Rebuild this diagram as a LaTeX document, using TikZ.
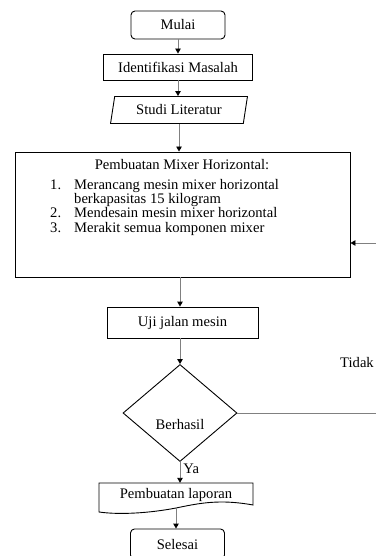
\documentclass[tikz,border=0pt]{standalone}
\usepackage{fontspec}
\setmainfont{Liberation Serif}
\usetikzlibrary{shapes.geometric,arrows.meta,positioning}

\begin{document}
\begin{tikzpicture}[
      x=1pt, y=-1pt,
      font=\fontsize{14.6}{14}\selectfont,
      >={Triangle[length=5pt,width=5.5pt,color=black]},
      Box/.style={draw, line width=0.9pt, inner sep=0pt},
      Terminal/.style={Box, rounded corners=4pt, minimum width=94pt, minimum height=28pt},
      Flow/.style={->, draw=gray, line width=0.9pt},
      ]
      \useasboundingbox (0,0) rectangle (375,556);

      \node[Terminal] (mulai) at (178, 25) {Mulai};
      \node[Box, minimum width=149pt, minimum height=26pt] (identifikasi) at (178, 67) {Identifikasi Masalah};
      \node[Box, trapezium, trapezium left angle=75, trapezium right angle=105,
            trapezium stretches=true, minimum width=138pt, minimum height=27pt] (studi) at (179, 110) {Studi Literatur};

      % kotak proses pembuatan
      \node[Box, minimum width=335pt, minimum height=125pt] (pembuatan) at (182.5, 214.5) {};
      \node (judul) at (182, 165) {Pembuatan Mixer Horizontal:};
      \node[anchor=north west, inner sep=0pt] (langkah) at (50, 179) {%
        \begin{tabular}{@{}p{24pt}@{}l@{}}
          1. & Merancang mesin mixer horizontal\\
             & berkapasitas 15 kilogram\\
          2. & Mendesain mesin mixer horizontal\\
          3. & Merakit semua komponen mixer
        \end{tabular}};

      \node[Box, minimum width=151pt, minimum height=31pt] (uji) at (182.5, 322.5) {Uji jalan mesin};
      \node[Box, diamond, minimum width=114pt, minimum height=97pt,
            label={[yshift=-12pt]center:Berhasil}] (cek) at (180, 413) {};
      \node (tidak) at (357, 363) {Tidak};

      % dokumen laporan
      \node[minimum width=154pt, minimum height=24pt, inner sep=0pt] (laporan) at (176, 495) {Pembuatan laporan};
      \draw[line width=0.9pt] (99,483) -- (253,483) -- (253,505)
        .. controls (220,499) and (200,503) .. (176,508)
        .. controls (150,513) and (120,515) .. (99,512) -- cycle;

      \node[Terminal, minimum height=30pt] (selesai) at (177.5, 544) {Selesai};

      \draw[Flow] (mulai) -- (identifikasi);
      \draw[Flow] (identifikasi) -- (identifikasi |- studi.north);
      \draw[Flow] (studi.south) -- (studi.south |- pembuatan.north);
      \draw[Flow] (cek |- pembuatan.south) -- (cek |- uji.north);
      \draw[Flow] (cek |- uji.south) -- (cek.north);
      \draw[Flow] (cek.south) -- (cek.south |- laporan.north) node[pos=0.35, right, inner sep=3pt] {Ya};
      \draw[Flow] (laporan.south) -- (laporan.south |- selesai.north);

      \coordinate (balik) at (380, 243);
      \draw[Flow] (cek.east) -| (balik) -- (pembuatan.east |- balik);
\end{tikzpicture}
\end{document}
